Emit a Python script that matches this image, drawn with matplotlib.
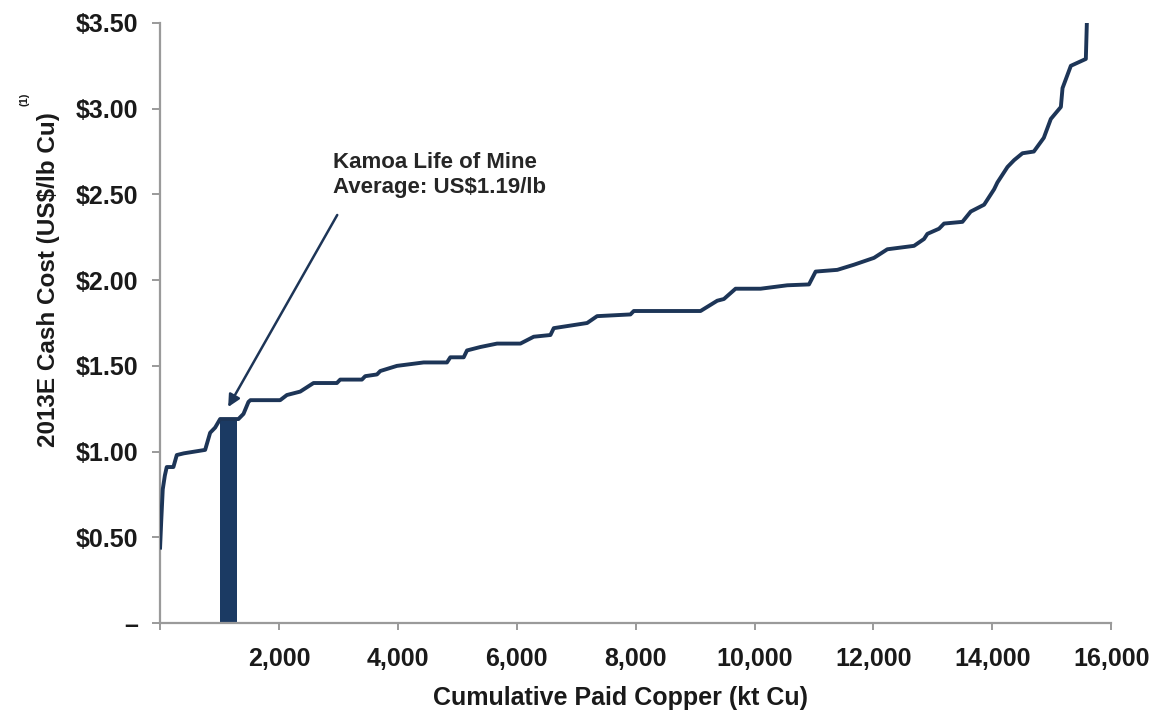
import matplotlib.pyplot as plt
import numpy as np

plt.rcParams['font.family'] = ['Liberation Sans', 'DejaVu Sans']

# industry cost curve: cumulative paid copper (kt Cu) vs 2013E cash cost (US$/lb)
cum_copper = [0, 20, 45, 80, 112, 224, 281, 400, 758, 842, 926, 1010, 1318,
              1403, 1487, 1520, 2020, 2133, 2357, 2581, 2974, 3030, 3395, 3451,
              3648, 3704, 3984, 4433, 4826, 4882, 5107, 5163, 5387, 5668, 6061,
              6285, 6566, 6622, 7183, 7351, 7912, 7968, 9091, 9372, 9484, 9680,
              10101, 10550, 10915, 11027, 11392, 11672, 12009, 12233, 12682,
              12850, 12907, 13103, 13187, 13496, 13636, 13861, 14029, 14085,
              14254, 14366, 14506, 14697, 14865, 14983, 15152, 15180, 15320,
              15572, 15589]
cash_cost = [0.44, 0.60, 0.78, 0.86, 0.91, 0.91, 0.98, 0.99, 1.01, 1.11, 1.14,
             1.19, 1.19, 1.22, 1.29, 1.30, 1.30, 1.33, 1.35, 1.40, 1.40, 1.42,
             1.42, 1.44, 1.45, 1.47, 1.50, 1.52, 1.52, 1.55, 1.55, 1.59, 1.61,
             1.63, 1.63, 1.67, 1.68, 1.72, 1.75, 1.79, 1.80, 1.82, 1.82, 1.88,
             1.89, 1.95, 1.95, 1.97, 1.975, 2.05, 2.06, 2.09, 2.13, 2.18, 2.20,
             2.24, 2.27, 2.30, 2.33, 2.34, 2.40, 2.44, 2.53, 2.57, 2.66, 2.70,
             2.74, 2.75, 2.83, 2.94, 3.01, 3.12, 3.25, 3.29, 3.50]

# Kamoa life-of-mine block
kamoa_start = 1010
kamoa_width = 292
kamoa_cost = 1.19

x_ticks = np.arange(0, 16001, 2000)
x_labels = [''] + ['{:,}'.format(v) for v in x_ticks[1:]]
y_ticks = np.arange(0, 3.51, 0.5)
y_labels = ['–'] + ['${:.2f}'.format(v) for v in y_ticks[1:]]

navy = '#1d3557'
grey = '#9a9a9a'

fig = plt.figure(figsize=(11.6, 7.17), dpi=100)
ax = fig.add_axes([0.138, 0.131, 0.820, 0.837])

ax.bar(kamoa_start, kamoa_cost, width=kamoa_width, align='edge',
       color='#1b3a63', zorder=2)
ax.plot(cum_copper, cash_cost, color=navy, lw=2.8, solid_joinstyle='round',
        zorder=3)

ax.set_xlim(0, 16000)
ax.set_ylim(0, 3.5)
ax.set_xticks(x_ticks)
ax.set_xticklabels(x_labels)
ax.set_yticks(y_ticks)
ax.set_yticklabels(y_labels)

for side in ['top', 'right']:
    ax.spines[side].set_visible(False)
for side in ['left', 'bottom']:
    ax.spines[side].set_color(grey)
    ax.spines[side].set_linewidth(1.6)

ax.tick_params(axis='both', colors=grey, width=1.4, labelcolor='#1a1a1a',
               labelsize=18)
ax.tick_params(axis='y', length=6, pad=10)
ax.tick_params(axis='x', length=5, pad=12)
for lbl in ax.get_xticklabels() + ax.get_yticklabels():
    lbl.set_fontweight('bold')

ax.set_xlabel('Cumulative Paid Copper (kt Cu)', fontsize=18, fontweight='bold',
              color='#1a1a1a')
ax.xaxis.set_label_coords(0.484, -0.105)
ax.set_ylabel('2013E Cash Cost (US$/lb Cu)', fontsize=17.5, fontweight='bold',
              color='#1a1a1a')
ax.yaxis.set_label_coords(-0.105, 0.572)
fig.text(0.021, 0.862, '(1)', rotation=90, fontsize=8, fontweight='bold',
         color='#1a1a1a', ha='center', va='center')

ax.annotate('', xy=(1145, 1.26), xytext=(2980, 2.38),
            arrowprops=dict(arrowstyle='-|>', color=navy, lw=1.8,
                            mutation_scale=18, shrinkA=0, shrinkB=0))
ax.text(2912, 2.745, 'Kamoa Life of Mine\nAverage: US$1.19/lb', fontsize=16,
        fontweight='bold', color='#262626', ha='left', va='top',
        linespacing=1.25)

fig.savefig('out.png', dpi=100)
